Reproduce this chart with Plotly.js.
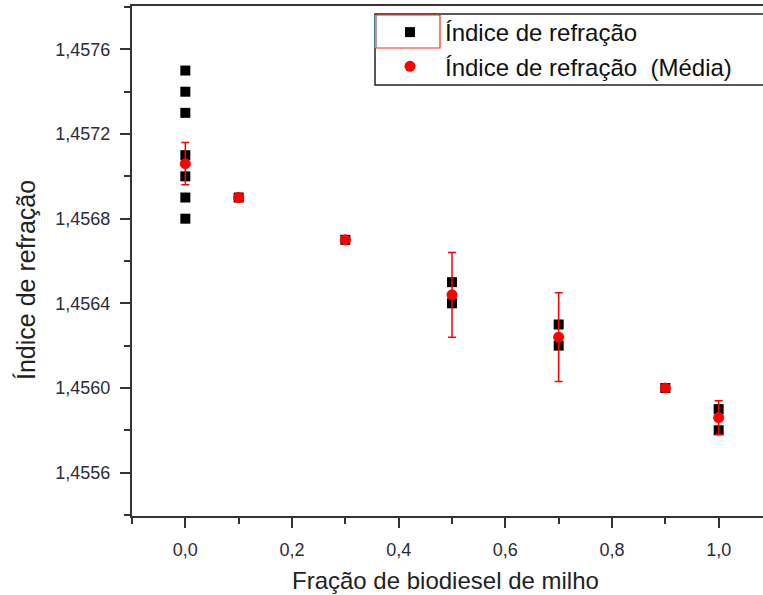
<!DOCTYPE html>
<html>
<head>
<meta charset="utf-8">
<script src="https://cdn.plot.ly/plotly-3.0.1.min.js"></script>
<style>
  html, body { margin: 0; padding: 0; overflow: hidden; background: #fff; }
  #chart { width: 790px; height: 595px; }
</style>
</head>
<body>
<div id="chart"></div>
<script>
// Individual refractive index readings per corn-biodiesel fraction
const fracReadings = [0, 0, 0, 0, 0, 0, 0, 0.1, 0.3, 0.5, 0.5, 0.7, 0.7, 0.9, 1.0, 1.0];
const indexReadings = [1.4575, 1.4574, 1.4573, 1.4571, 1.4570, 1.4569, 1.4568,
                       1.4569, 1.4567, 1.4565, 1.4564, 1.4563, 1.4562, 1.4560, 1.4559, 1.4558];

// Mean value per fraction with its error
const fracMeans = [0, 0.1, 0.3, 0.5, 0.7, 0.9, 1.0];
const indexMeans = [1.45706, 1.4569, 1.4567, 1.45644, 1.45624, 1.4560, 1.45586];
const indexErrors = [0.0001, 0.00001, 0.00001, 0.0002, 0.00021, 0.00001, 0.00008];

const seriesNames = ['Índice de refração', 'Índice de refração\u00a0 (Média)'];
const xTitle = 'Fração de biodiesel de milho';
const yTitle = 'Índice de refração';

const FONT = 'Liberation Sans, Arial, sans-serif';
const AXIS_COLOR = '#333';
const TICK_COLOR = '#2b2b3a';

const traces = [
  {
    x: fracReadings, y: indexReadings, type: 'scatter', mode: 'markers',
    name: seriesNames[0],
    marker: { symbol: 'square', size: 10, color: '#000' }
  },
  {
    x: fracMeans, y: indexMeans, type: 'scatter', mode: 'markers',
    name: seriesNames[1],
    marker: { symbol: 'circle', size: 11, color: '#ff0000' },
    error_y: { type: 'data', array: indexErrors, visible: true,
               color: '#ff0000', thickness: 1.5, width: 4 }
  }
];

const W = 790, H = 595, L = 132, T = 6, B = 79, R = 18;
const pw = W - L - R, ph = H - T - B;
const px2x = p => (p - L) / pw;
const py2y = p => (H - B - p) / ph;

const layout = {
  width: W, height: H,
  margin: { l: L, r: R, t: T, b: B },
  paper_bgcolor: '#fff', plot_bgcolor: '#fff',
  separators: ',.',
  showlegend: true,
  font: { family: FONT, color: '#222' },
  xaxis: {
    range: [-0.1, 1.1], dtick: 0.2, tick0: 0, tickformat: '.1f',
    showgrid: false, zeroline: false,
    showline: true, mirror: true, linecolor: AXIS_COLOR, linewidth: 2,
    ticks: 'outside', ticklen: 10, tickwidth: 2, tickcolor: AXIS_COLOR,
    ticklabelstandoff: 6,
    tickfont: { family: FONT, size: 18, color: TICK_COLOR },
    minor: { dtick: 0.1, tick0: 0, ticks: 'outside', ticklen: 6, tickwidth: 2, tickcolor: AXIS_COLOR, showgrid: false }
  },
  yaxis: {
    range: [1.455395, 1.457805], dtick: 0.0004, tick0: 1.4556, tickformat: '.4f',
    showgrid: false, zeroline: false,
    showline: true, mirror: true, linecolor: AXIS_COLOR, linewidth: 2,
    ticks: 'outside', ticklen: 10, tickwidth: 2, tickcolor: AXIS_COLOR,
    ticklabelstandoff: 6,
    tickfont: { family: FONT, size: 18, color: TICK_COLOR },
    minor: { dtick: 0.0002, tick0: 1.4556, ticks: 'outside', ticklen: 6, tickwidth: 2, tickcolor: AXIS_COLOR, showgrid: false }
  },
  legend: {
    x: px2x(375), y: py2y(10), xanchor: 'left', yanchor: 'top',
    bgcolor: 'rgba(0,0,0,0)', borderwidth: 0,
    itemwidth: 60,
    font: { family: FONT, size: 24, color: '#111' }
  },
  shapes: [
    // legend frame
    { type: 'rect', xref: 'paper', yref: 'paper',
      x0: px2x(375), x1: px2x(785), y0: py2y(85), y1: py2y(14),
      line: { color: '#222', width: 1.5 }, fillcolor: 'rgba(0,0,0,0)' },
    // highlight around the first legend symbol
    { type: 'rect', xref: 'paper', yref: 'paper',
      x0: px2x(376), x1: px2x(440), y0: py2y(48), y1: py2y(15),
      line: { color: '#ff2020', width: 1.2 }, fillcolor: 'rgba(0,0,0,0)' },
    { type: 'line', xref: 'paper', yref: 'paper',
      x0: px2x(375.5), x1: px2x(375.5), y0: py2y(48), y1: py2y(15),
      line: { color: '#00e5ff', width: 1.5 } }
  ],
  annotations: [
    { text: xTitle, xref: 'paper', yref: 'paper', x: px2x(445), y: py2y(580),
      xanchor: 'center', yanchor: 'middle', showarrow: false,
      font: { family: FONT, size: 24, color: '#222' } },
    { text: yTitle, xref: 'paper', yref: 'paper', x: px2x(26), y: py2y(280),
      xanchor: 'center', yanchor: 'middle', showarrow: false, textangle: -90,
      font: { family: FONT, size: 25, color: '#222' } }
  ]
};

Plotly.newPlot('chart', traces, layout, { displayModeBar: false, staticPlot: true });
</script>
</body>
</html>
